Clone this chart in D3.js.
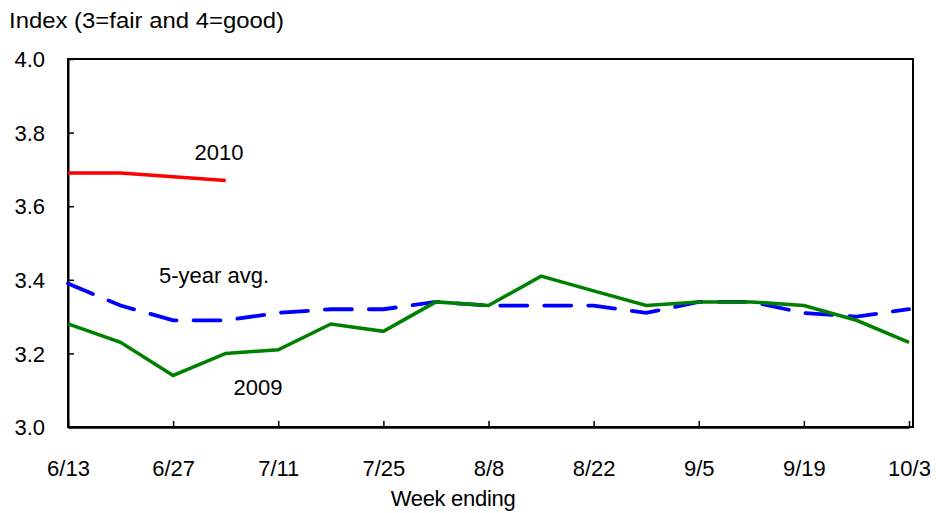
<!DOCTYPE html>
<html><head><meta charset="utf-8">
<script src="https://cdn.jsdelivr.net/npm/d3@7"></script>
<style>
body{margin:0;background:#fff;}
svg{display:block;font-family:"Liberation Sans",Arial,sans-serif;}
</style></head>
<body>
<svg id="c" width="936" height="513"></svg>
<script>
const weeks = ["6/13","6/20","6/27","7/4","7/11","7/18","7/25","8/1","8/8","8/15","8/22","8/29","9/5","9/12","9/19","9/26","10/3"];
const tickLabels = ["6/13","6/27","7/11","7/25","8/8","8/22","9/5","9/19","10/3"];
const yTicks = [3.0,3.2,3.4,3.6,3.8,4.0];
const values2010 = [3.69,3.69,3.68,3.67];
const values2009 = [3.28,3.23,3.14,3.20,3.21,3.28,3.26,3.34,3.33,3.41,3.37,3.33,3.34,3.34,3.33,3.29,3.23];
const valuesAvg = [3.39,3.33,3.29,3.29,3.31,3.32,3.32,3.34,3.33,3.33,3.33,3.31,3.34,3.34,3.31,3.30,3.32];

const svg = d3.select("#c");
const L=68, R=913, T=59, B=427;
const x = d3.scalePoint().domain(weeks).range([L, 909]);
const y = d3.scaleLinear().domain([3.0,4.0]).range([B, T]);

// frame
svg.append("rect").attr("x",L).attr("y",T).attr("width",R-L).attr("height",B-T)
  .attr("fill","none").attr("stroke","#000").attr("stroke-width",2);

// y axis
const yAxis = d3.axisLeft(y).tickValues(yTicks).tickFormat(d3.format(".1f")).tickSizeInner(-6).tickSizeOuter(0).tickPadding(23);
const gy = svg.append("g").attr("transform",`translate(${L},0)`).call(yAxis);
gy.select(".domain").attr("stroke","#000").attr("stroke-width",2);
gy.selectAll(".tick line").attr("stroke","#000").attr("stroke-width",1.5);
gy.selectAll(".tick text").attr("font-size",22).attr("fill","#000").attr("dy","0.35em");

// x axis
const xAxis = d3.axisBottom(x).tickValues(tickLabels).tickSizeInner(-6).tickSizeOuter(0).tickPadding(30);
const gx = svg.append("g").attr("transform",`translate(0,${B})`).call(xAxis);
gx.select(".domain").attr("stroke","#000").attr("stroke-width",2.5);
gx.selectAll(".tick line").attr("stroke","#000").attr("stroke-width",1.5);
gx.selectAll(".tick text").attr("font-size",22).attr("fill","#000").attr("dy","0.35em")
  .attr("y",41);

const line = d3.line().x((d,i)=>x(weeks[i])).y(d=>y(d));

svg.append("path").datum(valuesAvg).attr("d",line).attr("fill","none")
  .attr("stroke","#0000ff").attr("stroke-width",3.8).attr("stroke-dasharray","27,17").attr("stroke-linecap","round");
svg.append("path").datum(values2009).attr("d",line).attr("fill","none")
  .attr("stroke","#008000").attr("stroke-width",3.5);
svg.append("path").datum(values2010).attr("d",line).attr("fill","none")
  .attr("stroke","#ff0000").attr("stroke-width",3.5);

// labels
const lab = (t,xx,yy,fs)=>svg.append("text").attr("x",xx).attr("y",yy).attr("font-size",fs||22).attr("fill","#000").text(t);
lab("Index (3=fair and 4=good)",9,28,22).attr("textLength",275).attr("lengthAdjust","spacingAndGlyphs");
lab("2010",219,160).attr("text-anchor","middle");
lab("5-year avg.",214,283).attr("text-anchor","middle");
lab("2009",258,395).attr("text-anchor","middle");
lab("Week ending",453,506,22).attr("text-anchor","middle").attr("letter-spacing","-0.3");
</script>
</body></html>
